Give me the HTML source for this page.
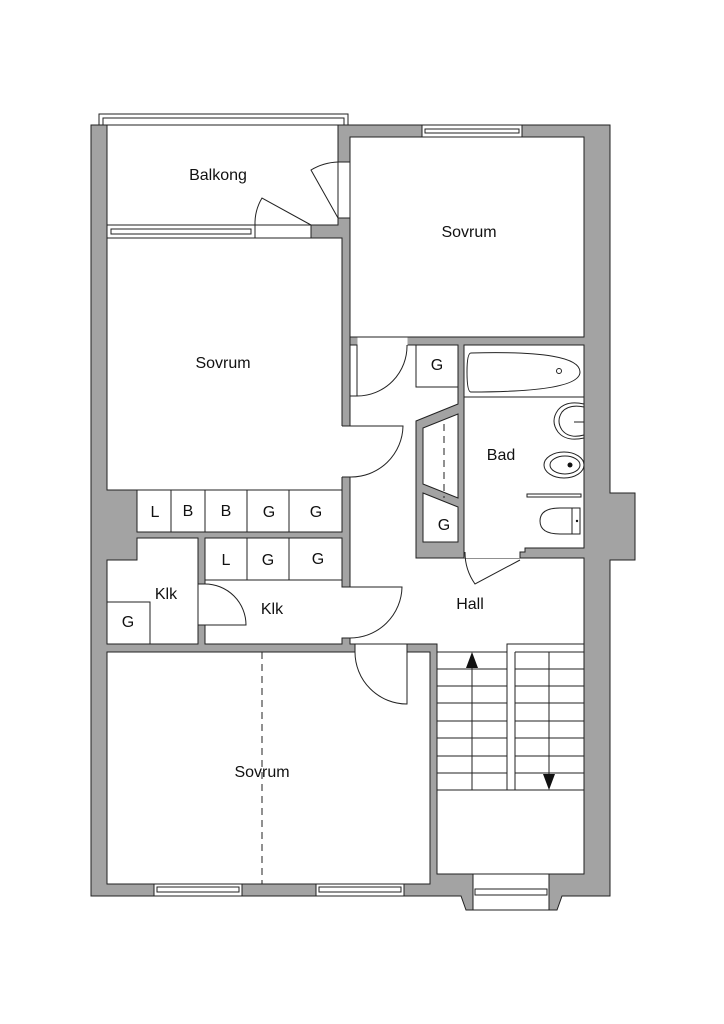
<!DOCTYPE html>
<html><head><meta charset="utf-8"><style>
html,body{margin:0;padding:0;background:#fff;}
svg{display:block}
text{font-family:"Liberation Sans","DejaVu Sans",sans-serif;fill:#111;}
</style></head><body>
<svg width="724" height="1024" viewBox="0 0 724 1024" xmlns="http://www.w3.org/2000/svg">
<rect width="724" height="1024" fill="#fff"/>
<g stroke="#222" stroke-width="1">
<!-- walls footprint -->
<path d="M91,125 H107 V225 H338 V125 H610 V493 H635 V560 H610 V896 H562 L557,910 H466 L461,896 H91 Z" fill="#a3a3a3"/>
<!-- balcony -->
<rect x="107" y="125" width="231" height="100" fill="#fff"/>
<!-- balcony rail -->
<path d="M99,125 V114 H348 V125" fill="none"/>
<path d="M103,125 V118 H344 V125" fill="none"/>
<!-- top sovrum -->
<rect x="350" y="137" width="234" height="200" fill="#fff"/>
<!-- left sovrum -->
<rect x="107" y="238" width="235" height="252" fill="#fff"/>
<!-- storage row 1 -->
<rect x="137" y="490" width="205" height="42" fill="#fff"/>
<path d="M171,490V532M205,490V532M247,490V532M289,490V532" fill="none"/>
<!-- storage row 2 -->
<rect x="205" y="538" width="137" height="42" fill="#fff"/>
<path d="M247,538V580M289,538V580" fill="none"/>
<!-- left klk -->
<path d="M137,538 H198 V644 H107 V560 H137 Z" fill="#fff"/>
<rect x="107" y="602" width="43" height="42" fill="#fff"/>
<!-- right klk -->
<rect x="205" y="580" width="137" height="64" fill="#fff"/>
<!-- hall -->
<path d="M350,345 H458 V404 L416,421 V558 H584 V874 H437 V644 H350 Z" fill="#fff"/>
<rect x="416" y="345" width="42" height="42" fill="#fff"/>
<!-- wardrobe & G -->
<path d="M423,428 L458,414 V498 L423,484 Z" fill="#fff"/>
<path d="M423,493 L458,507 V542 H423 Z" fill="#fff"/>
<!-- bath -->
<path d="M464,345 H584 V548 H525 V552 H520 V558 H464 Z" fill="#fff"/>
<!-- bottom sovrum -->
<rect x="107" y="652" width="323" height="232" fill="#fff"/>
<!-- stair bay -->
<rect x="473" y="874" width="76" height="36" fill="#fff"/>
</g>
<!-- door gaps (white) -->
<g fill="#fff">
<rect x="255.5" y="225.5" width="55" height="12"/>
<rect x="338.5" y="162.5" width="11" height="55"/>
<rect x="341.5" y="426" width="9" height="51"/>
<rect x="357.5" y="337.5" width="50" height="8"/>
<rect x="198.5" y="584.5" width="7" height="40"/>
<rect x="341.5" y="587.5" width="9" height="50"/>
<rect x="355.5" y="644.5" width="51" height="8"/>
<rect x="464.5" y="547" width="55" height="11"/>
<rect x="430.5" y="652" width="0" height="0"/>
</g>
<g stroke="#222" stroke-width="1" fill="none">
<!-- gap edge lines -->
<path d="M255,225V238M311,225V238M338,162H350M338,218H350M342,426H350M342,477H350"/>
<path d="M350,337V396H357V345H350"/>
<path d="M198,584H205M198,625H205M342,587H350M342,638H350M355,644V652M407,644V652"/>
<!-- doors -->
<path d="M311,225 L262,198 A50,50 0 0 0 255,225"/>
<path d="M338,218 L311,170 A56,56 0 0 1 338,162"/>
<path d="M357,396 A50,50 0 0 0 407,345"/>
<path d="M350,426 H403 A52,52 0 0 1 350,477"/>
<path d="M205,625 H246 A41,41 0 0 0 205,584"/>
<path d="M350,587 H402 A52,52 0 0 1 350,638"/>
<path d="M407,652 V704 A52,52 0 0 1 355,652"/>
<path d="M520,560 L475,584 A55,55 0 0 1 465,552"/>
<!-- windows -->
<rect x="422" y="125" width="100" height="12" fill="#fff"/>
<rect x="425" y="129" width="94" height="4"/>
<rect x="107" y="225" width="148" height="13" fill="#fff"/>
<rect x="111" y="229" width="140" height="5"/>
<rect x="154" y="884" width="88" height="12" fill="#fff"/>
<rect x="157" y="887" width="82" height="5"/>
<rect x="316" y="884" width="88" height="12" fill="#fff"/>
<rect x="319" y="887" width="82" height="5"/>
<rect x="475" y="889" width="72" height="6"/>
<!-- dashed lines -->
<path d="M262,652V884M444,424V498" stroke-dasharray="7,5"/>
<!-- stairs -->
<path d="M437,652H507M437,669H507M437,686H507M437,703H507M437,721H507M437,738H507M437,756H507M437,773H507M437,790H584"/>
<path d="M515,652H584M515,669H584M515,686H584M515,703H584M515,721H584M515,738H584M515,756H584M515,773H584"/>
<path d="M507,790V644H584M515,790V652"/>
<path d="M472,664V790M549,652V776"/>
<!-- bath fixtures -->
<path d="M471,353 Q580,350 580,372 Q580,392 471,392 Q467,392 467,372 Q467,353 471,353 Z"/>
<circle cx="559" cy="371" r="2.5"/>
<path d="M464,397H584"/>
<path d="M584,404 Q566,400 558,410 Q550,421 558,432 Q566,442 584,438"/>
<path d="M584,407 Q569,404 562,412 Q556,421 562,430 Q569,439 584,435"/>
<path d="M574,422H584"/>
<ellipse cx="564" cy="465" rx="20" ry="13"/>
<ellipse cx="565" cy="465" rx="15" ry="9"/>
<rect x="527" y="494" width="54" height="3"/>
<path d="M575,508 H560 Q540,508 540,521 Q540,534 560,534 H575"/>
<rect x="572" y="508" width="8" height="26"/>
</g>
<circle cx="570" cy="465" r="2.5" fill="#111"/>
<circle cx="577" cy="521" r="1.2" fill="#111"/>
<!-- arrows -->
<path d="M466,668 L472,652 L478,668 Z" fill="#111"/>
<path d="M543,774 L549,790 L555,774 Z" fill="#111"/>
<!-- labels -->
<g font-size="16" text-anchor="middle">
<text x="218" y="180">Balkong</text>
<text x="469" y="237">Sovrum</text>
<text x="223" y="368">Sovrum</text>
<text x="501" y="460">Bad</text>
<text x="470" y="609">Hall</text>
<text x="166" y="599">Klk</text>
<text x="272" y="614">Klk</text>
<text x="262" y="777">Sovrum</text>
<text x="437" y="370">G</text>
<text x="444" y="530">G</text>
<text x="128" y="627">G</text>
<text x="155" y="517">L</text>
<text x="188" y="516">B</text>
<text x="226" y="516">B</text>
<text x="269" y="517">G</text>
<text x="316" y="517">G</text>
<text x="226" y="565">L</text>
<text x="268" y="565">G</text>
<text x="318" y="564">G</text>
</g>
</svg>
</body></html>
